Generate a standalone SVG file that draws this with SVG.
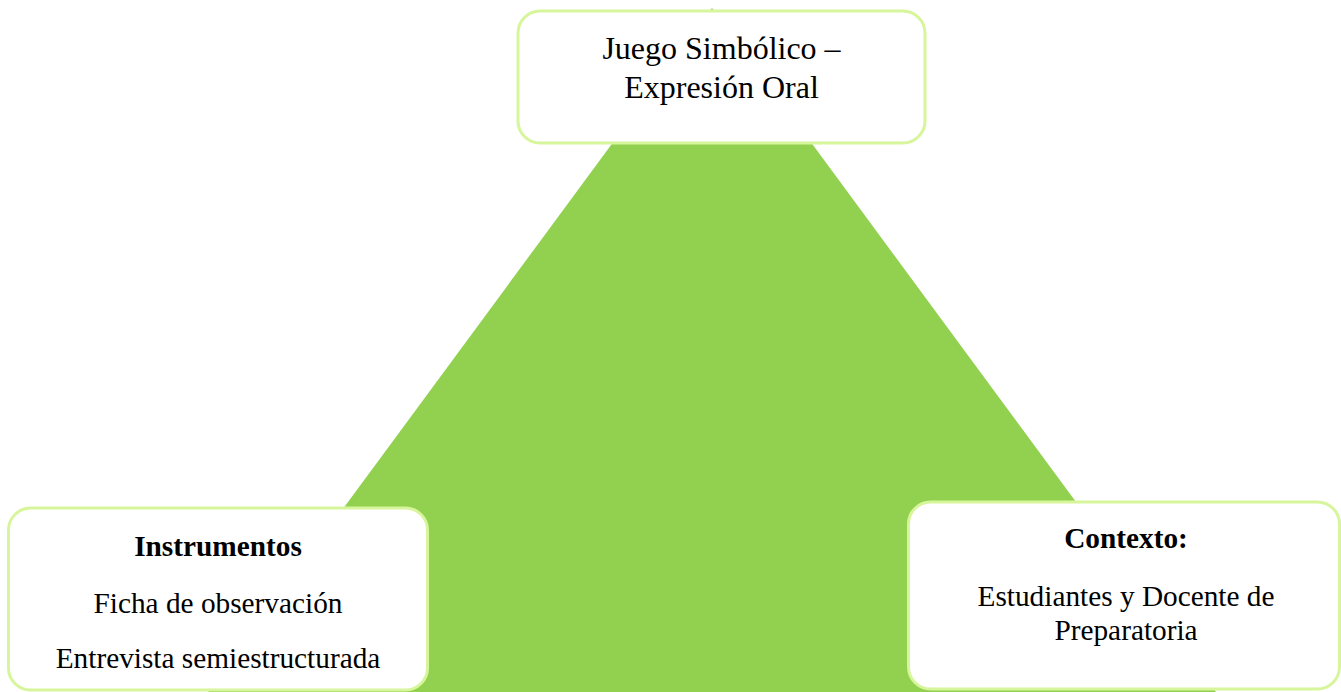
<svg xmlns="http://www.w3.org/2000/svg" width="1341" height="692" viewBox="0 0 1341 692">
<style>
.box{fill:#ffffff;stroke:#d7f59a;stroke-width:3}
.t{font-family:"Liberation Serif","Times New Roman",serif;fill:#000;text-anchor:middle}
.big{font-size:32px}
.n{font-size:29.3px}
.b{font-weight:bold}
</style>
<rect width="1341" height="692" fill="#ffffff"/>
<g id="connectors">
<polygon points="712,8 1216,692 208,692" fill="#92d050"/>
</g>
<g id="node-top">
<rect class="box" x="518" y="11" width="407" height="132" rx="22"/>
<text class="t big" x="721.5" y="59">Juego Simbólico –</text>
<text class="t big" x="721.5" y="98">Expresión Oral</text>
</g>
<g id="node-left">
<rect class="box" x="8.5" y="508" width="419" height="182" rx="22"/>
<text class="t n b" x="218" y="556">Instrumentos</text>
<text class="t n" x="218" y="613">Ficha de observación</text>
<text class="t n" x="218" y="668">Entrevista semiestructurada</text>
</g>
<g id="node-right">
<rect class="box" x="908.5" y="502" width="431" height="187" rx="22"/>
<text class="t n b" x="1126" y="548">Contexto:</text>
<text class="t n" x="1126" y="606">Estudiantes y Docente de</text>
<text class="t n" x="1126" y="640">Preparatoria</text>
</g>
</svg>
